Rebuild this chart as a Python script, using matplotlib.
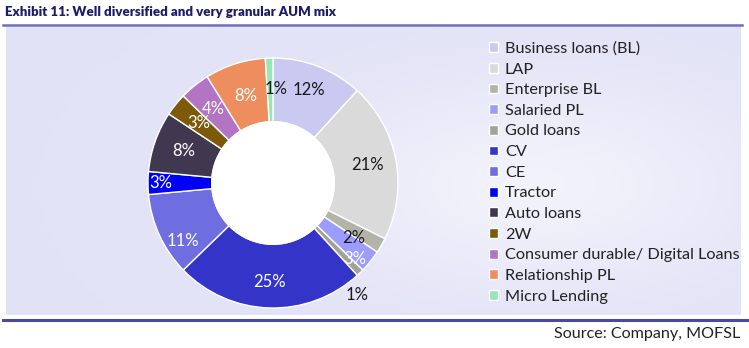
import numpy as np
import matplotlib.pyplot as plt
from matplotlib.lines import Line2D

plt.rcParams['font.family'] = ['Lato', 'DejaVu Sans']

# AUM mix (%)
segments = ["Business loans (BL)", "LAP", "Enterprise BL", "Salaried PL", "Gold loans",
            "CV", "CE", "Tractor", "Auto loans", "2W",
            "Consumer durable/ Digital Loans", "Relationship PL", "Micro Lending"]
shares = [12, 21, 2, 3, 1, 25, 11, 3, 8, 3, 4, 8, 1]
colors = ["#c9c9f2", "#dadada", "#b3b3aa", "#9c9cff", "#a2a29a",
          "#3434c8", "#6e6ee0", "#0000f5", "#40384f", "#7d5a0a",
          "#b374c4", "#ee8d5e", "#98e6b8"]
label_colors = ["#1a1a1a", "#1a1a1a", "#1a1a1a", "white", "#1a1a1a",
                "white", "white", "white", "white", "white",
                "white", "white", "#1a1a1a"]
# label radius / angle tweaks, like the original chart
label_r = [0.80, 0.77, 0.78, 0.89, 1.12, 0.79, 0.86, 0.90, 0.76, 0.76, 0.76, 0.73, 0.75]
label_dang = [0, 0, 4, 4, 7, 0, -8, 0, 0, 0, 0, 0, 3.5]

W, H = 749, 348
fig = plt.figure(figsize=(W / 100, H / 100), dpi=100)
fig.patch.set_facecolor("white")

# background panel with soft gradient
bg = fig.add_axes([0, 0, 1, 1])
bg.set_xlim(0, W)
bg.set_ylim(H, 0)
bg.axis("off")
yy, xx = np.mgrid[0:1:100j, 0:1:200j]
grad = 1 - 0.55 * np.exp(-((xx - 0.72) ** 2) / 0.08 - ((yy - 0.55) ** 2) / 0.12)
base = np.array([0.89, 0.89, 0.97])
img = np.clip(base[None, None, :] + (1 - base)[None, None, :] * (1 - grad[..., None]), 0, 1)
bg.imshow(img, extent=[6, 741, 315, 27], aspect="auto", zorder=0)
bg.add_line(Line2D([3, 742], [25, 25], color="#6e6eb4", lw=1.8))
bg.add_line(Line2D([3, 749], [320, 320], color="#4a4a9a", lw=2.2))
bg.text(5, 12, "Exhibit 11: Well diversified and very granular AUM mix",
        fontsize=9.5, fontweight="heavy", color="#1c1c6a", va="center", ha="left")
bg.text(740, 334, "Source: Company, MOFSL", fontsize=11.6, color="#222222",
        va="center", ha="right")

# donut
cx, cy, R = 273, 183, 125
ax = fig.add_axes([(cx - R) / W, (H - cy - R) / H, 2 * R / W, 2 * R / H])
ax.set_facecolor("none")
wedges, _ = ax.pie(shares, colors=colors, startangle=90, counterclock=False,
                   radius=1, wedgeprops=dict(width=0.51, edgecolor="white", linewidth=1))
ax.set_xlim(-1, 1)
ax.set_ylim(-1, 1)
ax.add_patch(plt.Circle((0, 0), 0.49, color="white", zorder=3))

for w, v, c, r, da in zip(wedges, shares, label_colors, label_r, label_dang):
    ang = np.deg2rad((w.theta1 + w.theta2) / 2 - da)
    ax.text(r * np.cos(ang), r * np.sin(ang), f"{v}%", ha="center", va="center",
            fontsize=12, color=c, clip_on=False, zorder=5)

# legend
leg = fig.legend(wedges, segments, loc="upper left", bbox_to_anchor=(483 / W, 1 - 35 / H),
                 frameon=False, fontsize=11.7, handlelength=0.55, handleheight=0.55,
                 handletextpad=0.4, labelspacing=0.41, borderaxespad=0, labelcolor="#222222")

plt.savefig("out.png", dpi=100)
